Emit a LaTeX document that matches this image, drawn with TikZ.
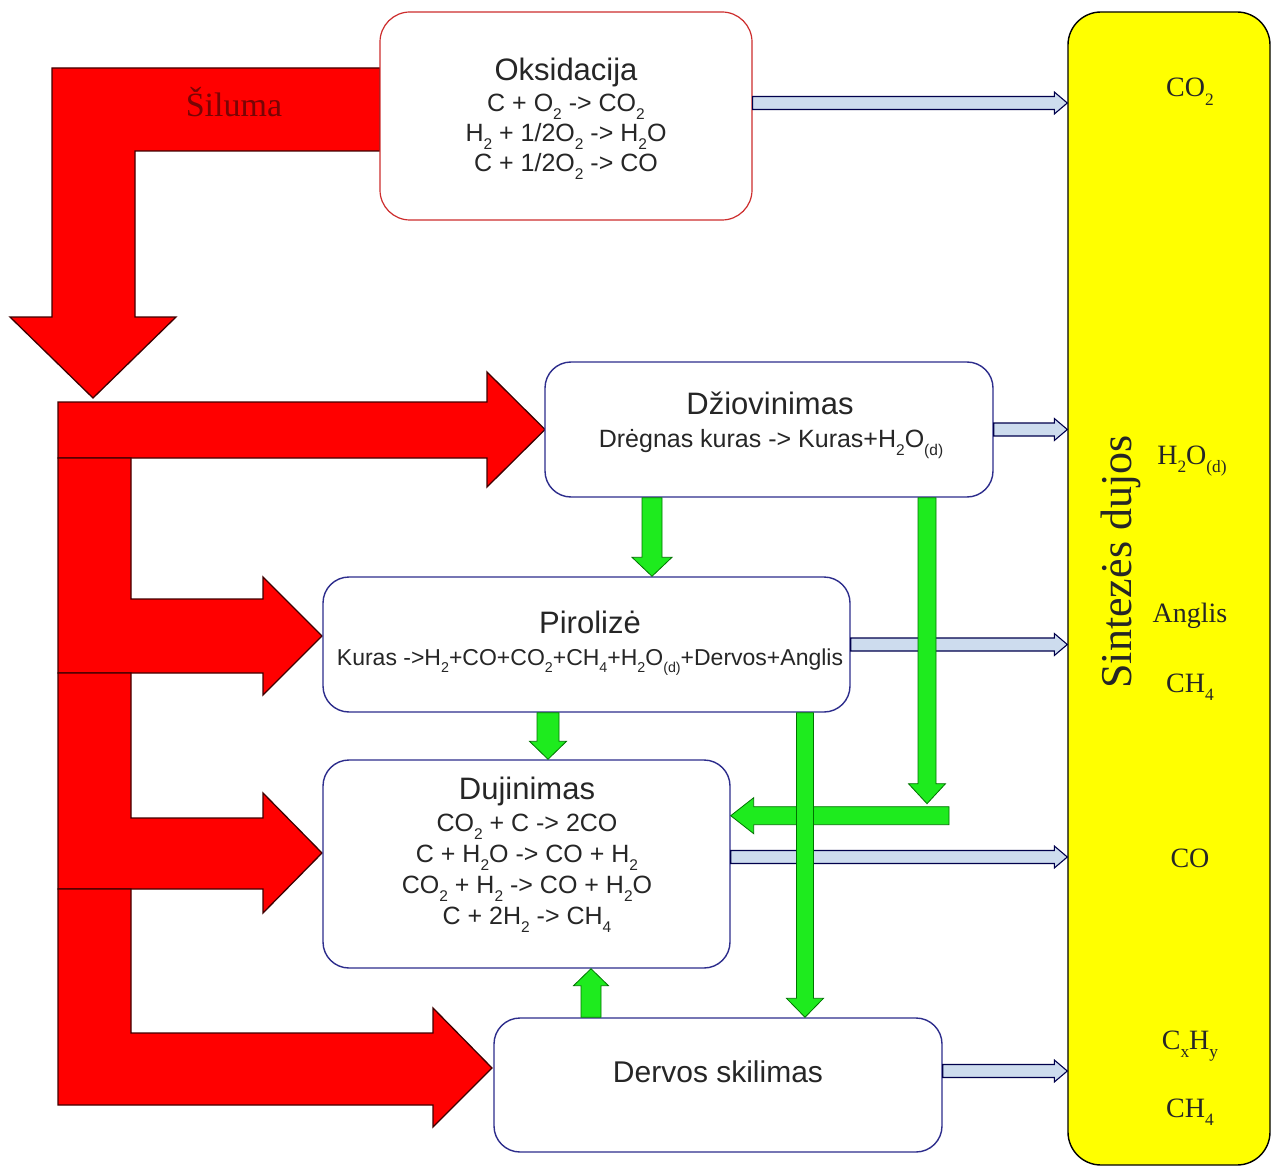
\documentclass[tikz,border=0pt]{standalone}
\usepackage{fontspec}
\setmainfont{Liberation Sans}
\newfontfamily\tms{Liberation Serif}
\usepackage{graphicx}
\usetikzlibrary{calc}
\definecolor{redfill}{RGB}{255,0,0}
\definecolor{heatred}{RGB}{120,5,5}
\definecolor{navy}{RGB}{45,45,140}
\definecolor{oksred}{RGB}{205,45,45}
\definecolor{grayblue}{RGB}{205,220,238}
\definecolor{gfill}{RGB}{30,235,30}
\definecolor{yfill}{RGB}{255,255,0}
\newcommand\sbs[1]{\raisebox{-0.32em}{\scalebox{0.62}{#1}}}
% block arrow from #2 to #3: shaft half width #4, head half width #5, head length #6
\newcommand\barrow[6][]{%
  \coordinate (ba-c) at ($(#3)!#6!(#2)$);
  \filldraw[#1] ($(#2)!#4!90:(#3)$) -- ($(ba-c)!#4!90:(#3)$) -- ($(ba-c)!#5!90:(#3)$) -- (#3)
    -- ($(ba-c)!#5!-90:(#3)$) -- ($(ba-c)!#4!-90:(#3)$) -- ($(#2)!#4!-90:(#3)$) -- cycle;}
\tikzset{
  box/.style={draw=navy, line width=1.4pt, rounded corners=26pt, fill=white, inner sep=0pt},
  heat/.style={fill=redfill, draw=black!75!red, line width=1.3pt, line join=miter},
  gas/.style={fill=grayblue, draw=black!70!blue, line width=1.1pt, line join=miter},
  flow/.style={fill=gfill, draw=black!55!green, line width=0.8pt, line join=miter},
  ttl/.style={anchor=base, font=\fontsize{31}{36}\selectfont, inner sep=0pt, text=black!85},
  eqn/.style={anchor=base, font=\fontsize{25}{30}\selectfont, inner sep=0pt, text=black!85},
  prod/.style={anchor=base, font=\tms\fontsize{28}{32}\selectfont, inner sep=0pt, text=black!85},
}
\begin{document}
\begin{tikzpicture}[x=1pt,y=-1pt]
\useasboundingbox[fill=white] (0,0) rectangle (1275,1169);

% heat arrows
\filldraw[heat] (380,68) -- (52,68) -- (52,317) -- (10,317) -- (93,398) -- (176,317) -- (135,317) -- (135,151) -- (380,151) -- cycle;
\filldraw[heat] (58,402) -- (487,402) -- (487,372) -- (545,429.5) -- (487,487) -- (487,458) -- (58,458) -- cycle;
\filldraw[heat] (58,458) -- (131,458) -- (131,599) -- (263,599) -- (263,577) -- (322,636) -- (263,695) -- (263,673) -- (58,673) -- cycle;
\filldraw[heat] (58,673) -- (131,673) -- (131,818) -- (263,818) -- (263,793) -- (322,853) -- (263,913) -- (263,889) -- (58,889) -- cycle;
\filldraw[heat] (58,889) -- (131,889) -- (131,1033) -- (433,1033) -- (433,1008) -- (492,1068) -- (433,1127) -- (433,1105) -- (58,1105) -- cycle;
\node[anchor=base, font=\tms\fontsize{34}{40}\selectfont, text=heatred, inner sep=0pt] (heat-t) at (234,117) {Šiluma};

% boxes
\node[box, draw=oksred, line width=1.2pt, rounded corners=30pt, minimum width=372pt, minimum height=208pt] (oks) at (566,116) {};
\node[box, minimum width=448pt, minimum height=135pt] (dzio) at (769,429.5) {};
\node[box, minimum width=527pt, minimum height=135pt] (piro) at (586.5,644.5) {};
\node[box, minimum width=407pt, minimum height=208pt] (duj) at (526.5,864) {};
\node[box, minimum width=448pt, minimum height=134pt] (derv) at (718,1085) {};
\node[draw=black, line width=1.4pt, fill=yfill, rounded corners=33pt, minimum width=202pt, minimum height=1153pt, inner sep=0pt] (syn) at (1169,588.5) {};

% gas arrows
\coordinate (a1s) at ($(oks.east)+(0,-13)$);
\coordinate (a1e) at (syn.west |- a1s);
\barrow[gas]{a1s}{a1e}{6.5pt}{11pt}{13pt}
\coordinate (a2s) at (dzio.east);
\coordinate (a2e) at (syn.west |- a2s);
\barrow[gas]{a2s}{a2e}{6.5pt}{11pt}{13pt}
\coordinate (a3s) at (piro.east);
\coordinate (a3e) at (syn.west |- a3s);
\barrow[gas]{a3s}{a3e}{6.5pt}{11pt}{13pt}
\coordinate (a4s) at ($(duj.east)+(0,-7)$);
\coordinate (a4e) at (syn.west |- a4s);
\barrow[gas]{a4s}{a4e}{6.5pt}{11pt}{13pt}
\coordinate (a5s) at ($(derv.east)+(0,-14)$);
\coordinate (a5e) at (syn.west |- a5s);
\barrow[gas]{a5s}{a5e}{6.5pt}{11pt}{13pt}

% material flow arrows
\coordinate (f1s) at ($(dzio.south)+(-117,0)$);
\coordinate (f1e) at (piro.north -| f1s);
\barrow[flow]{f1s}{f1e}{10pt}{20pt}{19pt}
\coordinate (f5s) at ($(piro.south)+(-38.5,0)$);
\coordinate (f5e) at (duj.north -| f5s);
\barrow[flow]{f5s}{f5e}{11pt}{18.5pt}{18pt}
\coordinate (f6s) at ($(derv.north)+(-127,0)$);
\coordinate (f6e) at (duj.south -| f6s);
\barrow[flow]{f6s}{f6e}{10pt}{17.5pt}{17pt}
\coordinate (f2s) at ($(dzio.south)+(158,0)$);
\coordinate (f2e) at ($(f2s)+(0,306)$);
\coordinate (f3s) at ($(f2e)+(22,12)$);
\coordinate (f3e) at (duj.east |- f3s);
\barrow[flow]{f3s}{f3e}{9pt}{18pt}{23pt}
\barrow[flow]{f2s}{f2e}{9pt}{18.5pt}{20pt}
\coordinate (f4s) at ($(piro.south)+(218.5,0)$);
\coordinate (f4e) at (derv.north -| f4s);
\barrow[flow]{f4s}{f4e}{8.5pt}{18.5pt}{19pt}

% texts in boxes
\node[ttl] (oks-t) at (566,81) {Oksidacija};
\node[eqn] (oks-1) at (566,112) {C + O\sbs{2} -> CO\sbs{2}};
\node[eqn] (oks-2) at (566,142) {H\sbs{2} + 1/2O\sbs{2} -> H\sbs{2}O};
\node[eqn] (oks-3) at (566,172) {C + 1/2O\sbs{2} -> CO};

\node[ttl] (dzio-t) at (770,414) {Džiovinimas};
\node[eqn] (dzio-1) at (771,447) {Drėgnas kuras -> Kuras+H\sbs{2}O\sbs{(d)}};

\node[ttl] (piro-t) at (590,633) {Pirolizė};
\node[eqn, font=\fontsize{23}{28}\selectfont] (piro-1) at (590,665) {Kuras ->H\sbs{2}+CO+CO\sbs{2}+CH\sbs{4}+H\sbs{2}O\sbs{(d)}+Dervos+Anglis};

\node[ttl] (duj-t) at (527,799) {Dujinimas};
\node[eqn] (duj-1) at (527,831) {CO\sbs{2} + C -> 2CO};
\node[eqn] (duj-2) at (527,862) {C + H\sbs{2}O -> CO + H\sbs{2}};
\node[eqn] (duj-3) at (527,893) {CO\sbs{2} + H\sbs{2} -> CO + H\sbs{2}O};
\node[eqn] (duj-4) at (527,924) {C + 2H\sbs{2} -> CH\sbs{4}};

\node[ttl, font=\fontsize{30}{36}\selectfont] (derv-t) at (718,1082) {Dervos skilimas};

% synthesis gas column
\node[anchor=base, rotate=90, font=\tms\fontsize{44}{50}\selectfont, inner sep=0pt, text=black!85] (syn-t) at (1131,562) {Sintezės dujos};
\node[prod] (p1) at (1190,97) {CO\sbs{2}};
\node[prod] (p2) at (1192,464) {H\sbs{2}O\sbs{(d)}};
\node[prod] (p3) at (1190,622) {Anglis};
\node[prod] (p4) at (1190,692) {CH\sbs{4}};
\node[prod] (p5) at (1190,867) {CO};
\node[prod] (p6) at (1190,1049) {C\sbs{x}H\sbs{y}};
\node[prod] (p7) at (1190,1117) {CH\sbs{4}};
\end{tikzpicture}
\end{document}
